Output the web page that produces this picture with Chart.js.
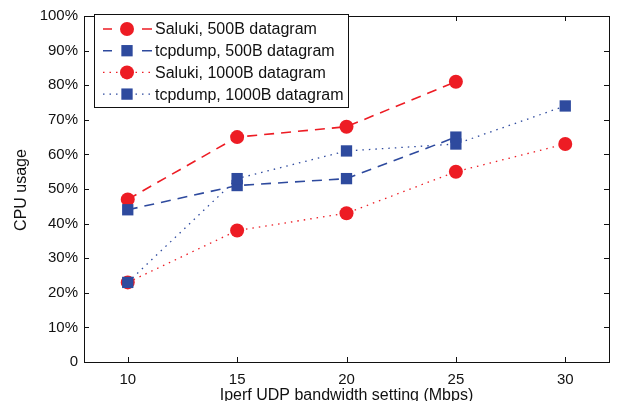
<!DOCTYPE html>
<html>
<head>
<meta charset="utf-8">
<script src="https://cdn.jsdelivr.net/npm/chart.js@4.4.0/dist/chart.umd.min.js"></script>
<style>
html, body { margin: 0; padding: 0; background: #fff; }
</style>
</head>
<body>
<canvas id="cpuChart" width="617" height="401"></canvas>
<script>
// Data
const bandwidth = [10, 15, 20, 25, 30];
const saluki500 = [47, 65, 68, 81];
const tcpdump500 = [44, 51, 53, 65];
const saluki1000 = [23, 38, 43, 55, 63];
const tcpdump1000 = [23, 53, 61, 63, 74];

const xTicks = [10, 15, 20, 25, 30];
const yTicks = [0, 10, 20, 30, 40, 50, 60, 70, 80, 90, 100];
const yTickLabels = ['0', '10%', '20%', '30%', '40%', '50%', '60%', '70%', '80%', '90%', '100%'];
const xTitle = 'Iperf UDP bandwidth setting (Mbps)';
const yTitle = 'CPU usage';

const RED = '#ed1c24';
const BLUE = '#2e4a9e';
const FONT = '"Liberation Sans", Arial, Helvetica, sans-serif';

function points(vals) {
    return vals.map((v, i) => ({ x: bandwidth[i], y: v }));
}

const DASH = [10, 7];
const DOT = [1.5, 5];

const datasets = [
    { label: 'Saluki, 500B datagram', data: points(saluki500), borderColor: RED, backgroundColor: RED,
      borderDash: DASH, borderWidth: 1.6, pointStyle: 'circle', pointRadius: 7, order: 3 },
    { label: 'tcpdump, 500B datagram', data: points(tcpdump500), borderColor: BLUE, backgroundColor: BLUE,
      borderDash: DASH, borderWidth: 1.6, pointStyle: 'rect', pointRadius: 8, order: 2 },
    { label: 'Saluki, 1000B datagram', data: points(saluki1000), borderColor: RED, backgroundColor: RED,
      borderDash: DOT, borderWidth: 1.3, pointStyle: 'circle', pointRadius: 7, order: 1 },
    { label: 'tcpdump, 1000B datagram', data: points(tcpdump1000), borderColor: BLUE, backgroundColor: BLUE,
      borderDash: DOT, borderWidth: 1.3, pointStyle: 'rect', pointRadius: 8, order: 0 }
];
datasets.forEach(d => {
    d.pointBorderWidth = 0;
    d.pointHoverRadius = d.pointRadius;
    d.fill = false;
    d.tension = 0;
});

// box, inward ticks (top/right mirrored), y title, legend inside plot
const framePlugin = {
    id: 'frame',
    afterDraw(chart) {
        const ctx = chart.ctx;
        const a = chart.chartArea;
        const xs = chart.scales.x, ys = chart.scales.y;
        ctx.save();
        ctx.strokeStyle = '#111';
        ctx.lineWidth = 1;
        ctx.setLineDash([]);
        ctx.strokeRect(Math.round(a.left) + 0.5, Math.round(a.top) + 0.5,
            Math.round(a.right - a.left), Math.round(a.bottom - a.top));
        const tl = 5;
        ctx.beginPath();
        xTicks.forEach(v => {
            const px = Math.round(xs.getPixelForValue(v)) + 0.5;
            ctx.moveTo(px, a.bottom); ctx.lineTo(px, a.bottom - tl);
            ctx.moveTo(px, a.top); ctx.lineTo(px, a.top + tl);
        });
        yTicks.forEach(v => {
            const py = Math.round(ys.getPixelForValue(v)) + 0.5;
            ctx.moveTo(a.left, py); ctx.lineTo(a.left + tl, py);
            ctx.moveTo(a.right, py); ctx.lineTo(a.right - tl, py);
        });
        ctx.stroke();

        // y axis title
        ctx.fillStyle = '#111';
        ctx.font = '16px ' + FONT;
        ctx.textAlign = 'center';
        ctx.textBaseline = 'middle';
        ctx.translate(22, 190);
        ctx.rotate(-Math.PI / 2);
        ctx.fillText(yTitle, 0, 0);
        ctx.restore();

        // legend
        ctx.save();
        const bx = a.left + 10, by = a.top - 2, bw = 254, bh = 93;
        ctx.fillStyle = '#fff';
        ctx.fillRect(bx, by, bw, bh);
        ctx.strokeStyle = '#111';
        ctx.lineWidth = 1;
        ctx.strokeRect(Math.round(bx) + 0.5, Math.round(by) + 0.5, bw, bh);
        chart.data.datasets.forEach((d, i) => {
            const y = by + 15 + i * 21.7;
            const x0 = bx + 9, xm = bx + 33, x1 = bx + 58;
            ctx.strokeStyle = d.borderColor;
            ctx.lineWidth = d.borderWidth;
            ctx.beginPath();
            if (d.borderDash === DASH) {
                ctx.setLineDash([]);
                ctx.moveTo(x0, y); ctx.lineTo(x0 + 9, y);
                ctx.moveTo(x1 - 10, y); ctx.lineTo(x1, y);
            } else {
                ctx.setLineDash(DOT);
                ctx.moveTo(x0, y); ctx.lineTo(x1, y);
            }
            ctx.stroke();
            ctx.setLineDash([]);
            ctx.fillStyle = d.backgroundColor;
            if (d.pointStyle === 'circle') {
                ctx.beginPath();
                ctx.arc(xm, y, d.pointRadius, 0, Math.PI * 2);
                ctx.fill();
            } else {
                const s = d.pointRadius * Math.SQRT1_2;
                ctx.fillRect(xm - s, y - s, 2 * s, 2 * s);
            }
            ctx.fillStyle = '#111';
            ctx.font = '16px ' + FONT;
            ctx.textAlign = 'left';
            ctx.textBaseline = 'middle';
            ctx.fillText(d.label, bx + 61, y + 1);
        });
        ctx.restore();
    }
};

const ctx = document.getElementById('cpuChart').getContext('2d');
const cpuChart = new Chart(ctx, {
    type: 'line',
    data: { datasets: datasets },
    options: {
        responsive: false,
        animation: false,
        devicePixelRatio: 1,
        layout: { padding: { top: 16, right: 7, bottom: 0, left: 0 } },
        plugins: {
            legend: { display: false },
            tooltip: { enabled: false }
        },
        scales: {
            x: {
                type: 'linear',
                min: 8,
                max: 32,
                grid: { display: false, drawTicks: false },
                border: { display: false },
                afterBuildTicks: s => { s.ticks = xTicks.map(v => ({ value: v })); },
                afterFit: s => { s.height = 39; },
                ticks: { padding: 9, color: '#111', font: { family: FONT, size: 15 }, maxRotation: 0 },
                title: { display: true, text: xTitle, color: '#111', font: { family: FONT, size: 16 },
                         padding: { top: 0, bottom: -4 } }
            },
            y: {
                min: 0,
                max: 100,
                grid: { display: false, drawTicks: false },
                border: { display: false },
                afterBuildTicks: s => { s.ticks = yTicks.map(v => ({ value: v })); },
                afterFit: s => { s.width = 84; },
                ticks: { padding: 6, color: '#111', font: { family: FONT, size: 15 },
                         callback: (v, i) => yTickLabels[i] }
            }
        }
    },
    plugins: [framePlugin]
});
</script>
</body>
</html>
